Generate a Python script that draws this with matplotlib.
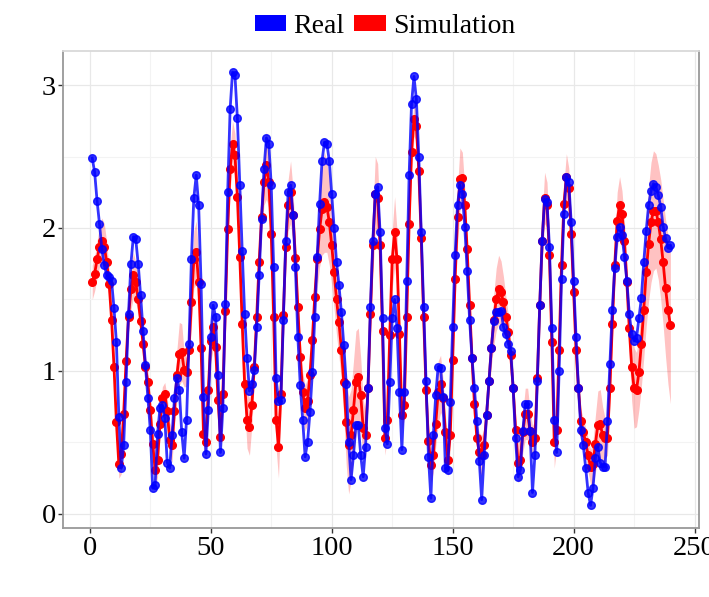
import numpy as np
import matplotlib
matplotlib.use('Agg')
from matplotlib import pyplot as plt
from matplotlib.patches import Patch
from matplotlib.ticker import MultipleLocator

real = [
    2.49, 2.39, 2.19, 2.03, 1.85, 1.74, 1.67, 1.66, 1.63, 1.44,
    1.20, 0.68, 0.32, 0.48, 0.92, 1.40, 1.75, 1.94, 1.92, 1.75,
    1.53, 1.28, 1.04, 0.81, 0.59, 0.18, 0.20, 0.56, 0.74, 0.76,
    0.67, 0.36, 0.32, 0.55, 0.81, 0.95, 0.87, 0.57, 0.39, 0.66,
    1.19, 1.78, 2.21, 2.37, 2.16, 1.61, 0.82, 0.42, 0.73, 1.24,
    1.46, 1.38, 0.97, 0.43, 0.74, 1.47, 2.25, 2.83, 3.09, 3.07,
    2.77, 2.30, 1.84, 1.40, 1.09, 0.86, 0.91, 1.01, 1.31, 1.67,
    2.06, 2.41, 2.63, 2.59, 2.30, 1.73, 0.95, 0.79, 0.80, 1.36,
    1.91, 2.25, 2.30, 2.09, 1.73, 1.24, 0.90, 0.66, 0.40, 0.50,
    0.71, 0.99, 1.38, 1.80, 2.17, 2.47, 2.60, 2.59, 2.47, 2.24,
    2.00, 1.76, 1.60, 1.41, 1.18, 0.91, 0.50, 0.24, 0.41, 0.62,
    0.62, 0.41, 0.26, 0.47, 0.88, 1.45, 1.91, 2.24, 2.29, 1.97,
    1.37, 0.60, 0.49, 0.92, 1.37, 1.50, 1.30, 0.85, 0.45, 0.85,
    1.63, 2.37, 2.87, 3.06, 2.90, 2.50, 1.97, 1.45, 0.93, 0.40,
    0.11, 0.55, 0.83, 1.03, 1.02, 0.82, 0.32, 0.31, 0.78, 1.31,
    1.81, 2.16, 2.30, 2.24, 2.01, 1.70, 1.36, 1.09, 0.88, 0.65,
    0.37, 0.10, 0.41, 0.69, 0.93, 1.16, 1.35, 1.41, 1.41, 1.42,
    1.31, 1.26, 1.19, 1.14, 0.88, 0.53, 0.26, 0.31, 0.58, 0.77,
    0.77, 0.58, 0.15, 0.41, 0.93, 1.46, 1.91, 2.20, 2.18, 1.87,
    1.30, 0.66, 0.43, 1.00, 1.64, 2.10, 2.36, 2.32, 2.04, 1.63,
    1.24, 0.88, 0.59, 0.48, 0.32, 0.15, 0.06, 0.18, 0.39, 0.47,
    0.36, 0.33, 0.33, 0.65, 1.05, 1.43, 1.72, 1.94, 2.01, 1.95,
    1.80, 1.63, 1.40, 1.26, 1.21, 1.23, 1.37, 1.51, 1.76, 1.98,
    2.16, 2.26, 2.31, 2.29, 2.23, 2.15, 2.01, 1.93, 1.86, 1.88,
]

simulation = [
    1.62, 1.68, 1.78, 1.87, 1.91, 1.87, 1.76, 1.61, 1.36, 1.03,
    0.64, 0.35, 0.42, 0.70, 1.07, 1.38, 1.57, 1.67, 1.62, 1.50,
    1.35, 1.19, 1.03, 0.92, 0.73, 0.49, 0.31, 0.38, 0.63, 0.81,
    0.84, 0.72, 0.52, 0.48, 0.72, 0.97, 1.12, 1.13, 1.01, 0.99,
    1.15, 1.48, 1.78, 1.83, 1.62, 1.16, 0.56, 0.50, 0.87, 1.21,
    1.31, 1.17, 0.80, 0.54, 0.84, 1.42, 1.99, 2.41, 2.59, 2.51,
    2.22, 1.80, 1.33, 0.91, 0.66, 0.61, 0.76, 1.03, 1.38, 1.76,
    2.08, 2.32, 2.44, 2.32, 1.96, 1.38, 0.66, 0.47, 0.84, 1.39,
    1.87, 2.16, 2.25, 2.09, 1.79, 1.45, 1.10, 0.85, 0.74, 0.79,
    0.97, 1.22, 1.52, 1.78, 1.99, 2.13, 2.18, 2.15, 2.04, 1.88,
    1.69, 1.50, 1.34, 1.15, 0.92, 0.64, 0.48, 0.55, 0.73, 0.92,
    0.96, 0.83, 0.60, 0.55, 0.88, 1.40, 1.88, 2.24, 2.21, 1.88,
    1.28, 0.53, 0.66, 1.25, 1.78, 1.97, 1.78, 1.26, 0.69, 0.76,
    1.38, 2.03, 2.53, 2.76, 2.71, 2.40, 1.93, 1.38, 0.87, 0.51,
    0.34, 0.41, 0.63, 0.85, 0.91, 0.81, 0.57, 0.38, 0.55, 1.08,
    1.64, 2.08, 2.34, 2.35, 2.16, 1.85, 1.46, 1.09, 0.77, 0.53,
    0.43, 0.41, 0.48, 0.69, 0.93, 1.16, 1.36, 1.50, 1.57, 1.55,
    1.48, 1.38, 1.27, 1.11, 0.88, 0.59, 0.36, 0.38, 0.57, 0.70,
    0.70, 0.58, 0.50, 0.53, 0.95, 1.46, 1.91, 2.21, 2.16, 1.81,
    1.20, 0.50, 0.59, 1.15, 1.74, 2.17, 2.36, 2.28, 1.96, 1.55,
    1.15, 0.88, 0.65, 0.57, 0.50, 0.41, 0.33, 0.35, 0.49, 0.62,
    0.63, 0.55, 0.53, 0.53, 0.88, 1.33, 1.74, 2.05, 2.16, 2.10,
    1.91, 1.62, 1.30, 1.03, 0.88, 0.87, 0.99, 1.19, 1.43, 1.69,
    1.89, 2.04, 2.12, 2.12, 2.04, 1.92, 1.76, 1.58, 1.43, 1.32,
]

# half width of the simulation band
band = [
    0.12, 0.12, 0.13, 0.14, 0.16, 0.16, 0.14, 0.10, 0.08, 0.08,
    0.08, 0.10, 0.14, 0.10, 0.08, 0.10, 0.14, 0.16, 0.14, 0.10,
    0.08, 0.08, 0.08, 0.08, 0.10, 0.12, 0.14, 0.12, 0.10, 0.08,
    0.08, 0.10, 0.12, 0.12, 0.10, 0.18, 0.22, 0.20, 0.12, 0.10,
    0.10, 0.16, 0.20, 0.22, 0.18, 0.12, 0.12, 0.12, 0.10, 0.14,
    0.16, 0.12, 0.10, 0.10, 0.08, 0.10, 0.12, 0.14, 0.16, 0.15,
    0.12, 0.10, 0.12, 0.16, 0.20, 0.20, 0.14, 0.10, 0.08, 0.08,
    0.10, 0.16, 0.24, 0.18, 0.12, 0.14, 0.20, 0.22, 0.12, 0.10,
    0.12, 0.18, 0.22, 0.18, 0.12, 0.10, 0.12, 0.14, 0.16, 0.16,
    0.12, 0.12, 0.14, 0.20, 0.26, 0.32, 0.35, 0.32, 0.30, 0.28,
    0.26, 0.25, 0.24, 0.22, 0.24, 0.30, 0.34, 0.32, 0.34, 0.36,
    0.34, 0.26, 0.20, 0.16, 0.12, 0.14, 0.20, 0.26, 0.24, 0.16,
    0.12, 0.12, 0.12, 0.15, 0.20, 0.25, 0.20, 0.12, 0.10, 0.10,
    0.10, 0.12, 0.14, 0.12, 0.10, 0.08, 0.08, 0.08, 0.10, 0.12,
    0.12, 0.12, 0.16, 0.22, 0.20, 0.14, 0.12, 0.12, 0.10, 0.12,
    0.16, 0.20, 0.22, 0.18, 0.12, 0.10, 0.08, 0.08, 0.08, 0.10,
    0.14, 0.14, 0.12, 0.10, 0.10, 0.12, 0.18, 0.22, 0.24, 0.22,
    0.18, 0.14, 0.12, 0.10, 0.10, 0.12, 0.14, 0.14, 0.14, 0.18,
    0.18, 0.14, 0.12, 0.12, 0.10, 0.12, 0.16, 0.18, 0.16, 0.12,
    0.14, 0.18, 0.12, 0.10, 0.10, 0.14, 0.16, 0.14, 0.10, 0.08,
    0.08, 0.08, 0.08, 0.10, 0.10, 0.12, 0.12, 0.16, 0.20, 0.24,
    0.24, 0.20, 0.14, 0.12, 0.10, 0.12, 0.16, 0.20, 0.20, 0.16,
    0.14, 0.14, 0.18, 0.24, 0.28, 0.26, 0.26, 0.30, 0.34, 0.38,
    0.40, 0.42, 0.42, 0.40, 0.40, 0.42, 0.44, 0.48, 0.52, 0.55,
]

x = np.arange(1, len(real) + 1)
real = np.array(real)
simulation = np.array(simulation)
band = np.array(band)

plt.rcParams['font.family'] = ['Liberation Serif', 'DejaVu Serif']

fig = plt.figure(figsize=(7.09, 5.97), dpi=100)
ax = fig.add_axes([0.0893, 0.1151, 0.897, 0.800])

ax.fill_between(x, simulation - band, simulation + band, color='#ff0000',
                alpha=0.24, linewidth=0, zorder=2)
ax.plot(x, simulation, color='#ff0000', lw=2.0, marker='o', ms=5.5, zorder=3)
ax.plot(x, real, color='#0000ff', lw=2.0, marker='o', ms=5.5, alpha=0.8, zorder=4)

ax.set_xlim(-10.95, 251.95)
ax.set_ylim(-0.10, 3.24)
ax.xaxis.set_major_locator(MultipleLocator(50))
ax.xaxis.set_minor_locator(MultipleLocator(25))
ax.yaxis.set_major_locator(MultipleLocator(1))
ax.yaxis.set_minor_locator(MultipleLocator(0.5))
ax.grid(which='major', color='#e8e8e8', lw=0.9, zorder=0)
ax.grid(which='minor', color='#f3f3f3', lw=0.8, zorder=0)
ax.set_axisbelow(True)

ax.tick_params(which='major', length=3.5, width=1, color='#333333',
               labelsize=20.5, labelcolor='black', pad=2)
ax.tick_params(which='minor', length=0)
for side in ['left', 'bottom', 'right']:
    ax.spines[side].set_color('#999999')
ax.spines['top'].set_color('#d9d9d9')
for sp in ax.spines.values():
    sp.set_linewidth(1.3)

handles = [Patch(facecolor='#0000ff', edgecolor='none'),
           Patch(facecolor='#ff0000', edgecolor='none')]
fig.legend(handles, ['Real', 'Simulation'], loc='center',
           bbox_to_anchor=(0.543, 0.956), ncol=2, frameon=False,
           fontsize=20, handlelength=1.15, handleheight=0.55,
           handletextpad=0.25, columnspacing=0.35)

fig.savefig('out.png', dpi=100)
